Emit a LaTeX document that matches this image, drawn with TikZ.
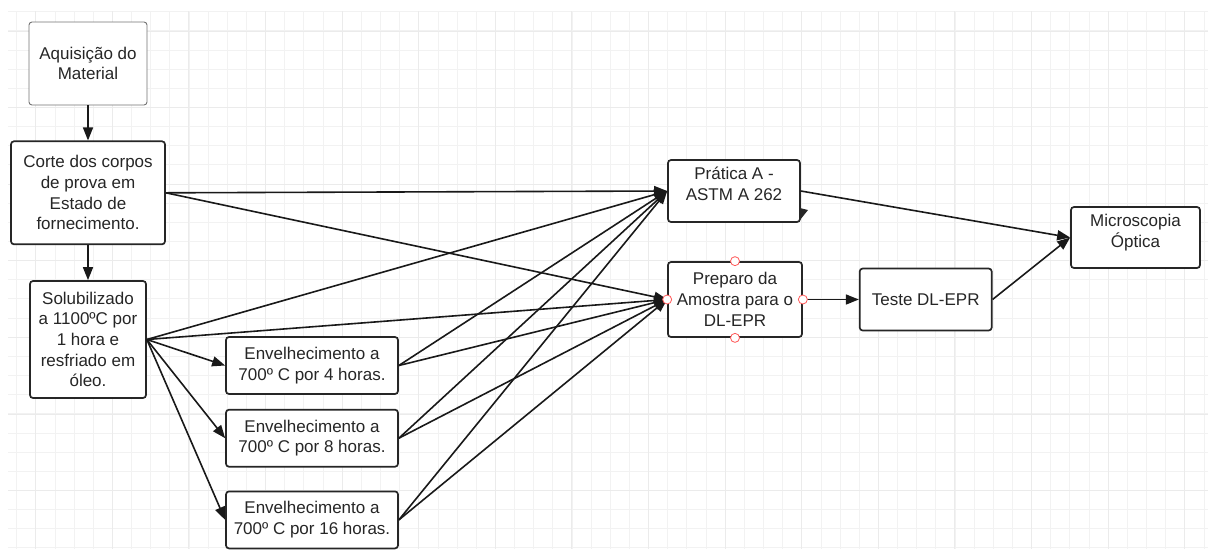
\documentclass[tikz,border=0pt]{standalone}
\usepackage{fontspec}
\setmainfont{Liberation Sans}
\usetikzlibrary{positioning, arrows.meta}

\begin{document}
\begin{tikzpicture}[x=1pt, y=-1pt, node distance = 35pt and 56pt,
box/.style= {rectangle, rounded corners= 3pt, align=center, line width=1.7pt, draw=black!85, fill=white, text=black!85, font=\fontsize{17}{20.7}\selectfont, inner sep=0pt},
thinbox/.style= {line width=0.9pt, draw=black!55},
flow/.style= {line width=1.6pt, draw=black!90, -{Triangle[length=13pt, width=10pt]}},
handle/.style= {circle, draw=red!65, fill=white, line width=0.8pt, minimum size=9pt, inner sep=0pt},
gridminor/.style= {line width=1pt, draw=black!5},
gridmajor/.style= {line width=1pt, draw=black!8} ]
\useasboundingbox (0,0) rectangle (1208,550);
% grid paper
\begin{scope}
\clip (8,11) rectangle (1208,549);
\foreach \i in {0,...,63} \draw[gridminor] ({16.7+19.15*\i},11) -- ++(0,538);
\foreach \j in {0,...,28} \draw[gridminor] (8,{11.7+19.15*\j}) -- ++(1200,0);
\foreach \i in {0,...,15} \draw[gridmajor] ({35.7+76.6*\i},11) -- ++(0,538);
\foreach \j in {0,...,6} \draw[gridmajor] (8,{31+76.6*\j}) -- ++(1200,0);
\end{scope}
% left column
\node (A) [box, thinbox, minimum width=118pt, minimum height=83pt] at (88,63.5) {Aquisição do\\Material};
\node (C) [box, minimum width=154pt, minimum height=103pt, below = of A] {Corte dos corpos\\de prova em\\Estado de\\fornecimento.};
\node (S) [box, minimum width=116pt, minimum height=117pt, below = of C] {Solubilizado\\a 1100ºC por\\1 hora e\\resfriado em\\óleo.};
% ageing
\node (E4) [box, minimum width=172pt, minimum height=57pt] at (312,365.5) {Envelhecimento a\\700º C por 4 horas.};
\node (E8) [box, minimum width=172pt, minimum height=57pt, below = 14pt of E4] {Envelhecimento a\\700º C por 8 horas.};
\node (E16) [box, minimum width=172pt, minimum height=57pt, below = 23pt of E8] {Envelhecimento a\\700º C por 16 horas.};
% tests
\node (P) [box, minimum width=132pt, minimum height=62pt, text depth=14pt] at (734,191) {Prática A -\\ASTM A 262};
\node (R) [box, minimum width=134pt, minimum height=75pt] at (735,299.5) {Preparo da\\Amostra para o\\DL-EPR};
\node (T) [box, minimum width=132pt, minimum height=62pt, right = of R] {Teste DL-EPR};
\node (M) [box, minimum width=129pt, minimum height=61pt, text depth=14pt] at (1135.5,237.5) {Microscopia\\Óptica};
% connectors
\draw[flow] (A) -- (C);
\draw[flow] (C) -- (S);
\foreach \t in {P, R} \draw[flow] (C.east) -- (\t.west);
\foreach \t in {P, R, E4, E8, E16} \draw[flow] (S.east) -- (\t.west);
\foreach \s in {E4, E8, E16} \foreach \t in {P, R} \draw[flow] (\s.east) -- (\t.west);
\draw[flow] (P.east) -- (M.west);
\draw[flow] (R) -- (T);
\draw[flow] (T.east) -- (M.west);
\fill[black!85] (800,208) -- (808,210) -- (800,220) -- cycle;
\foreach \a in {north, south, east, west} \node[handle] at (R.\a) {};
\end{tikzpicture}
\end{document}
